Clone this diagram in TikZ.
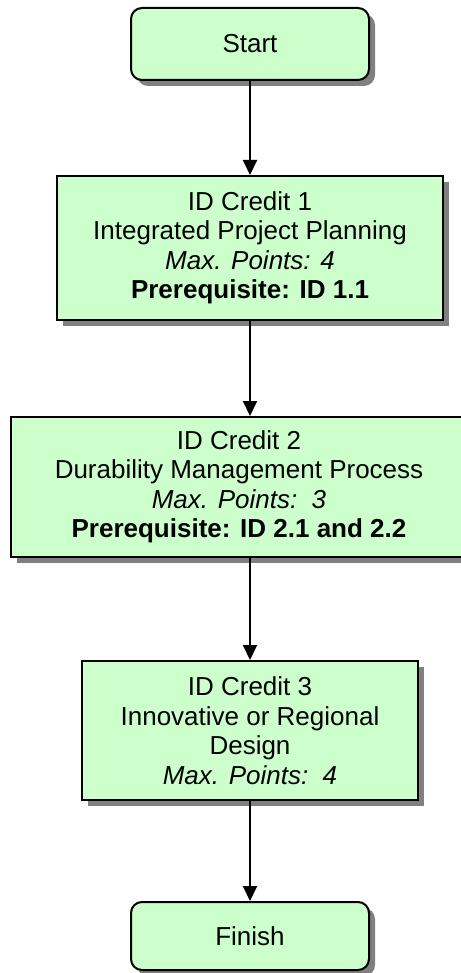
\documentclass[tikz,border=0pt]{standalone}
\usepackage{fontspec}
\setmainfont{Liberation Sans}
\usetikzlibrary{arrows.meta,shadows}
\definecolor{boxgreen}{HTML}{CCFFCC}
\definecolor{shadowgray}{HTML}{808080}
\begin{document}
\begin{tikzpicture}[x=1pt,y=-1pt,
  box/.style={draw=black, line width=2pt, fill=boxgreen, align=center, inner sep=0pt,
    font=\fontsize{26}{29.5}\selectfont,
    drop shadow={shadow xshift=6pt, shadow yshift=-6pt, fill=shadowgray, opacity=1}},
  term/.style={box, rounded corners=11pt},
  arr/.style={line width=2pt, -{Triangle[length=15pt,width=14pt]}}]
\useasboundingbox (0,0) rectangle (460,973);
\node[term, minimum width=238pt, minimum height=72pt] (start) at (250,44) {Start};
\node[box, minimum width=386pt, minimum height=144pt] (c1) at (250,248)
  {ID Credit 1\\Integrated Project Planning\\\textit{Max. Points: 4}\\\textbf{Prerequisite: ID 1.1}};
\node[box, minimum width=456pt, minimum height=140pt] (c2) at (239,487)
  {ID Credit 2\\Durability Management Process\\\textit{Max. Points:\ \ 3}\\\textbf{Prerequisite: ID 2.1 and 2.2}};
\node[box, minimum width=336pt, minimum height=139pt] (c3) at (250,730.5)
  {ID Credit 3\\Innovative or Regional\\Design\\\textit{Max. Points:\ \ 4}};
\node[term, minimum width=238pt, minimum height=68pt] (finish) at (250,936) {Finish};
\draw[arr] (start.south) -- (c1.north);
\draw[arr] (c1.south) -- (c1.south |- c2.north);
\draw[arr] (c2.south -| c3.north) -- (c3.north);
\draw[arr] (c3.south) -- (finish.north);
\end{tikzpicture}
\end{document}
